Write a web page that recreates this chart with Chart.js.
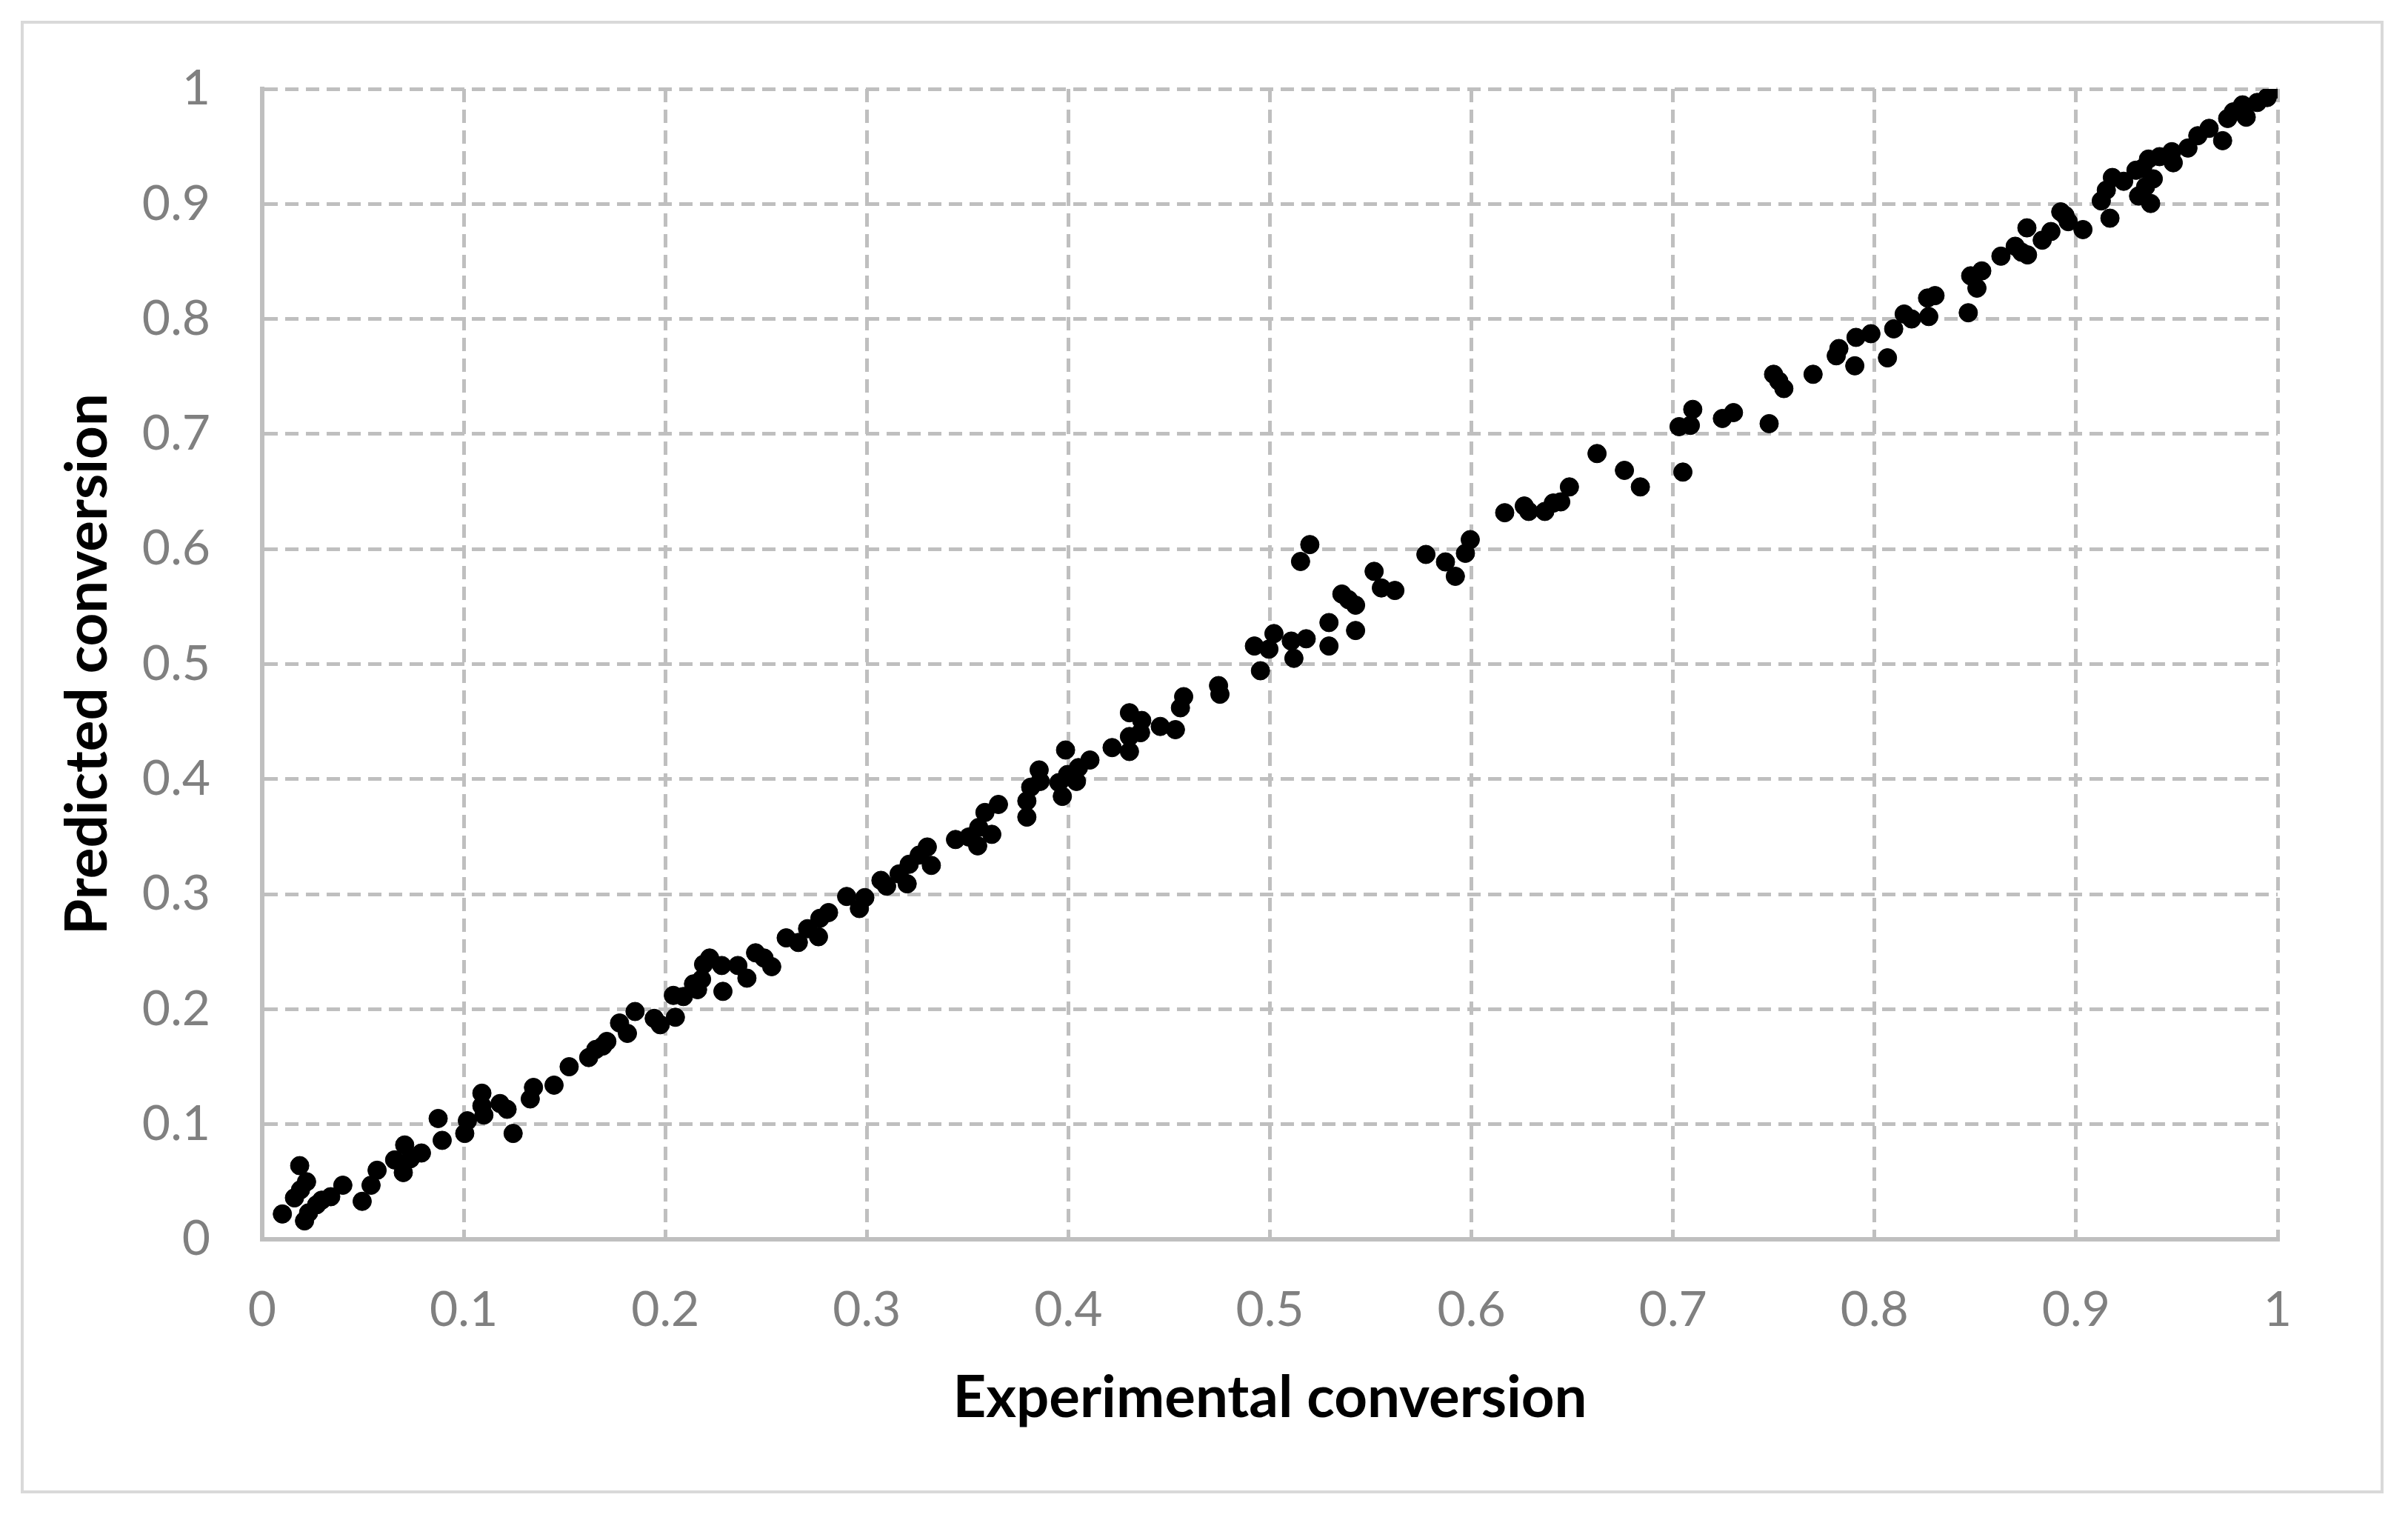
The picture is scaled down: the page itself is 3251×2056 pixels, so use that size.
<!DOCTYPE html>
<html>
<head>
<meta charset="utf-8">
<script src="https://cdn.jsdelivr.net/npm/chart.js@4.4.1/dist/chart.umd.min.js"></script>
<style>
  html, body { margin: 0; padding: 0; background: #fff; }
  #wrap { position: relative; width: 3251px; height: 2056px; }
  #frame {
    position: absolute; left: 28px; top: 28px; width: 3190px; height: 1988px;
    border: 4px solid #d9d9d9; box-sizing: border-box;
  }
  #chart { position: absolute; left: 0; top: 0; }
</style>
</head>
<body>
<div id="wrap">
  <div id="frame"></div>
  <canvas id="chart" width="3251" height="2056"></canvas>
</div>
<script>
const experimental = [
  0.010, 0.0186, 0.022, 0.019, 0.016, 0.021, 0.023, 0.0295, 0.027, 0.034,
  0.040, 0.0496, 0.054, 0.057, 0.0657, 0.0707, 0.070, 0.0735, 0.079, 0.0873,
  0.0893, 0.1005, 0.1018, 0.109, 0.109, 0.110, 0.118, 0.1215, 0.1245, 0.133,
  0.1346, 0.1448, 0.1523, 0.162, 0.1655, 0.169, 0.171, 0.1773, 0.1812, 0.185,
  0.1945, 0.1975, 0.205, 0.204, 0.209, 0.214, 0.218, 0.216, 0.222, 0.219,
  0.228, 0.2286, 0.236, 0.2405, 0.2448, 0.249, 0.2528, 0.26, 0.266, 0.2706,
  0.276, 0.2767, 0.281, 0.290, 0.2963, 0.299, 0.307, 0.3098, 0.316, 0.320,
  0.321, 0.326, 0.330, 0.332, 0.344, 0.3506, 0.355, 0.3586, 0.3653, 0.362,
  0.3555, 0.3794, 0.3794, 0.3813, 0.3855, 0.386, 0.397, 0.3953, 0.3986, 0.3996,
  0.404, 0.405, 0.4107, 0.4217, 0.4303, 0.4303, 0.4303, 0.4364, 0.4358, 0.4456,
  0.4531, 0.4556, 0.4572, 0.4745, 0.4752, 0.4923, 0.4953, 0.502, 0.4995, 0.5106,
  0.518, 0.5119, 0.5293, 0.5293, 0.5425, 0.5357, 0.5425, 0.539, 0.5517, 0.5553,
  0.562, 0.5198, 0.5152, 0.5774, 0.5871, 0.592, 0.597, 0.5994, 0.6165, 0.6262,
  0.6284, 0.6364, 0.6406, 0.6443, 0.6486, 0.6623, 0.6759, 0.6838, 0.703, 0.7086,
  0.7098, 0.7049, 0.7245, 0.730, 0.7477, 0.7499, 0.7525, 0.755, 0.7695, 0.781,
  0.7823, 0.7908, 0.7982, 0.7902, 0.8095, 0.8064, 0.8147, 0.8184, 0.8269, 0.8263,
  0.830, 0.8465, 0.8477, 0.8532, 0.8508, 0.8627, 0.8698, 0.8759, 0.8756, 0.873,
  0.8832, 0.8875, 0.8924, 0.8961, 0.9034, 0.8945, 0.9125, 0.9168, 0.918, 0.915,
  0.9236, 0.9297, 0.931, 0.937, 0.9359, 0.9383, 0.9414, 0.9482, 0.9475, 0.9555,
  0.9604, 0.966, 0.9727, 0.9752, 0.9826, 0.9844, 0.9899, 0.9948, 0.9998, 0.933,
  0.978, 0.9345
]

const predicted = [
  0.022, 0.064, 0.050, 0.043, 0.036, 0.016, 0.023, 0.034, 0.030, 0.037,
  0.047, 0.033, 0.047, 0.060, 0.069, 0.082, 0.058, 0.070, 0.075, 0.105,
  0.086, 0.092, 0.103, 0.127, 0.116, 0.108, 0.118, 0.113, 0.092, 0.122,
  0.132, 0.134, 0.150, 0.158, 0.165, 0.168, 0.172, 0.188, 0.179, 0.198,
  0.192, 0.1865, 0.193, 0.212, 0.211, 0.222, 0.226, 0.217, 0.2445, 0.239,
  0.238, 0.2155, 0.238, 0.227, 0.249, 0.2445, 0.237, 0.262, 0.258, 0.270,
  0.263, 0.279, 0.284, 0.298, 0.2875, 0.297, 0.312, 0.307, 0.3176, 0.309,
  0.326, 0.334, 0.341, 0.325, 0.3475, 0.3497, 0.342, 0.371, 0.378, 0.352,
  0.358, 0.367, 0.381, 0.393, 0.408, 0.398, 0.385, 0.397, 0.4253, 0.404,
  0.398, 0.410, 0.4166, 0.4274, 0.424, 0.437, 0.4577, 0.451, 0.4404, 0.4458,
  0.443, 0.462, 0.4717, 0.4813, 0.4738, 0.5157, 0.4942, 0.5265, 0.513, 0.520,
  0.522, 0.505, 0.5361, 0.5157, 0.5292, 0.5609, 0.5512, 0.556, 0.5806, 0.5662,
  0.564, 0.6039, 0.5892, 0.5953, 0.5888, 0.5763, 0.5963, 0.6082, 0.6316, 0.6374,
  0.6327, 0.6327, 0.640, 0.641, 0.654, 0.683, 0.6684, 0.654, 0.7064, 0.7075,
  0.7214, 0.6669, 0.7135, 0.7186, 0.709, 0.7519, 0.746, 0.7395, 0.7519, 0.768,
  0.7743, 0.784, 0.7872, 0.7593, 0.7914, 0.7662, 0.8043, 0.800, 0.8021, 0.8182,
  0.8203, 0.8054, 0.8375, 0.8418, 0.8268, 0.8546, 0.8632, 0.8557, 0.8792, 0.858,
  0.8685, 0.876, 0.8931, 0.8846, 0.8777, 0.890, 0.9026, 0.8876, 0.923, 0.912,
  0.9197, 0.9293, 0.9069, 0.9004, 0.939, 0.9218, 0.9411, 0.9358, 0.9454, 0.9486,
  0.9593, 0.9657, 0.955, 0.9743, 0.9861, 0.9754, 0.9882, 0.9925, 1.000, 0.931,
  0.980, 0.915
]

const tickLabels = ["0", "0.1", "0.2", "0.3", "0.4", "0.5", "0.6", "0.7", "0.8", "0.9", "1"]

const xTitle = "Experimental conversion"
const yTitle = "Predicted conversion"

const points = experimental.map((x, i) => ({ x: x, y: predicted[i] }))

const tickFont = { family: "Lato", size: 66 }
const titleFont = { family: "Lato", size: 78, weight: "bold" }

const gridOpts = {
  color: "#bfbfbf",
  lineWidth: 5,
  drawTicks: false,
}
const borderOpts = {
  display: true,
  color: "#bfbfbf",
  width: 6,
  dash: [18, 10],
}

const chart = new Chart(document.getElementById("chart"), {
  type: "scatter",
  data: {
    datasets: [
      {
        data: points,
        backgroundColor: "#000000",
        borderColor: "#000000",
        borderWidth: 1,
        pointRadius: 12.5,
      },
    ],
  },
  options: {
    animation: false,
    devicePixelRatio: 1,
    responsive: false,
    layout: {
      padding: { left: 0, top: 120, right: 176, bottom: 0 },
    },
    plugins: {
      legend: { display: false },
      tooltip: { enabled: false },
    },
    hover: { mode: null },
    scales: {
      x: {
        type: "linear",
        min: 0,
        max: 1,
        grid: gridOpts,
        border: borderOpts,
        ticks: {
          stepSize: 0.1,
          color: "#808080",
          font: tickFont,
          padding: 56,
          maxRotation: 0,
          callback: (v, i) => tickLabels[i],
        },
        title: {
          display: true,
          text: xTitle,
          color: "#000000",
          font: titleFont,
          padding: { top: 0, bottom: 121 },
        },
        afterFit: (scale) => { scale.height = 383 },
      },
      y: {
        type: "linear",
        min: 0,
        max: 1,
        grid: gridOpts,
        border: borderOpts,
        ticks: {
          stepSize: 0.1,
          color: "#808080",
          font: tickFont,
          padding: 70,
          callback: (v, i) => tickLabels[i],
        },
        title: {
          display: true,
          text: yTitle,
          color: "#000000",
          font: titleFont,
          padding: { top: 72, bottom: 0 },
        },
        afterFit: (scale) => { scale.width = 354 },
      },
    },
  },
})
</script>
</body>
</html>
